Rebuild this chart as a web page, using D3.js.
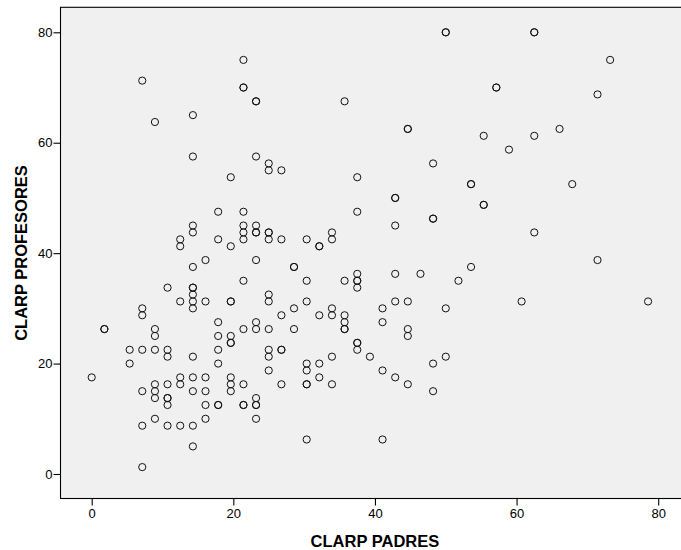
<!DOCTYPE html>
<html>
<head>
<meta charset="utf-8">
<script src="https://cdn.jsdelivr.net/npm/d3@7"></script>
<style>
  body { margin: 0; background: #fff; }
  svg text { font-family: "Liberation Sans", Arial, sans-serif; }
</style>
</head>
<body>
<svg id="chart"></svg>
<script>
// x: CLARP PADRES, y: CLARP PROFESORES (one entry per case, repeats = overlapping cases)
let clarpPadres = [
  0,
  1.79, 1.79,
  5.36, 5.36,
  7.14, 7.14, 7.14, 7.14, 7.14, 7.14, 7.14,
  8.93, 8.93, 8.93, 8.93, 8.93, 8.93, 8.93, 8.93,
  10.71, 10.71, 10.71, 10.71, 10.71, 10.71, 10.71, 10.71,
  12.5, 12.5, 12.5, 12.5, 12.5, 12.5,
  14.29, 14.29, 14.29, 14.29, 14.29, 14.29, 14.29, 14.29, 14.29, 14.29, 14.29, 14.29, 14.29, 14.29, 14.29,
  16.07, 16.07, 16.07, 16.07, 16.07, 16.07,
  17.86, 17.86, 17.86, 17.86, 17.86, 17.86, 17.86, 17.86,
  19.64, 19.64, 19.64, 19.64, 19.64, 19.64, 19.64, 19.64, 19.64, 19.64,
  21.43, 21.43, 21.43, 21.43, 21.43, 21.43, 21.43, 21.43, 21.43, 21.43, 21.43, 21.43,
  23.21, 23.21, 23.21, 23.21, 23.21, 23.21, 23.21, 23.21, 23.21, 23.21, 23.21, 23.21, 23.21,
  25, 25, 25, 25, 25, 25, 25, 25, 25, 25, 25,
  26.79, 26.79, 26.79, 26.79, 26.79, 26.79,
  28.57, 28.57, 28.57, 28.57,
  30.36, 30.36, 30.36, 30.36, 30.36, 30.36, 30.36, 30.36,
  32.14, 32.14, 32.14, 32.14, 32.14,
  33.93, 33.93, 33.93, 33.93, 33.93, 33.93,
  35.71, 35.71, 35.71, 35.71, 35.71, 35.71,
  37.5, 37.5, 37.5, 37.5, 37.5, 37.5, 37.5, 37.5, 37.5,
  39.29,
  41.07, 41.07, 41.07, 41.07,
  42.86, 42.86, 42.86, 42.86, 42.86, 42.86,
  44.64, 44.64, 44.64, 44.64, 44.64, 44.64,
  46.43,
  48.21, 48.21, 48.21, 48.21, 48.21,
  50, 50, 50, 50,
  51.79,
  53.57, 53.57, 53.57,
  55.36, 55.36, 55.36,
  57.14, 57.14,
  58.93,
  60.71,
  62.5, 62.5, 62.5, 62.5,
  66.07,
  67.86,
  71.43, 71.43,
  73.21,
  78.57
];

let clarpProfesores = [
  17.5,
  26.25, 26.25,
  22.5, 20,
  71.25, 30, 28.75, 22.5, 15, 8.75, 1.25,
  63.75, 26.25, 25, 22.5, 16.25, 15, 13.75, 10,
  33.75, 22.5, 21.25, 16.25, 13.75, 13.75, 12.5, 8.75,
  42.5, 41.25, 31.25, 17.5, 16.25, 8.75,
  65, 57.5, 45, 43.75, 37.5, 33.75, 33.75, 32.5, 31.25, 30, 21.25, 17.5, 15, 8.75, 5,
  38.75, 31.25, 17.5, 15, 12.5, 10,
  47.5, 42.5, 27.5, 25, 22.5, 20, 12.5, 12.5,
  53.75, 41.25, 31.25, 31.25, 25, 23.75, 23.75, 17.5, 16.25, 15,
  75, 70, 70, 47.5, 45, 43.75, 42.5, 35, 26.25, 16.25, 12.5, 12.5,
  67.5, 67.5, 57.5, 45, 43.75, 43.75, 38.75, 27.5, 26.25, 13.75, 12.5, 12.5, 10,
  56.25, 55, 43.75, 43.75, 42.5, 32.5, 31.25, 26.25, 22.5, 21.25, 18.75,
  55, 42.5, 28.75, 22.5, 22.5, 16.25,
  37.5, 37.5, 30, 26.25,
  42.5, 35, 31.25, 20, 18.75, 16.25, 16.25, 6.25,
  41.25, 41.25, 28.75, 20, 17.5,
  43.75, 42.5, 30, 28.75, 21.25, 16.25,
  67.5, 35, 28.75, 27.5, 26.25, 26.25,
  53.75, 47.5, 36.25, 35, 35, 33.75, 23.75, 23.75, 22.5,
  21.25,
  30, 27.5, 18.75, 6.25,
  50, 50, 45, 36.25, 31.25, 17.5,
  62.5, 62.5, 31.25, 26.25, 25, 16.25,
  36.25,
  56.25, 46.25, 46.25, 20, 15,
  80, 80, 30, 21.25,
  35,
  52.5, 52.5, 37.5,
  61.25, 48.75, 48.75,
  70, 70,
  58.75,
  31.25,
  80, 80, 61.25, 43.75,
  62.5,
  52.5,
  68.75, 38.75,
  75,
  31.25
];

let xTicks = [0, 20, 40, 60, 80];
let yTicks = [0, 20, 40, 60, 80];
let xTitle = 'CLARP PADRES', yTitle = 'CLARP PROFESORES';

let svgWidth = 681, svgHeight = 550;
let svg = d3.select('#chart').attr('width', svgWidth).attr('height', svgHeight);

// plot frame (runs off the right edge like the original)
let frame = {left: 60.5, top: 7.3, right: 700, bottom: 498.5};

let x = d3.scaleLinear().domain([0, 80]).range([91.7, 658.2]);
let y = d3.scaleLinear().domain([0, 80]).range([474, 32.3]);

svg.append('rect')
    .attr('x', frame.left).attr('y', frame.top)
    .attr('width', frame.right - frame.left)
    .attr('height', frame.bottom - frame.top)
    .attr('fill', '#f0f0f0')
    .attr('stroke', '#000')
    .attr('stroke-width', 1.1);

let xAxis = svg.append('g')
    .attr('transform', 'translate(0,' + frame.bottom + ')')
    .call(d3.axisBottom(x).tickValues(xTicks).tickSize(7).tickPadding(3).tickSizeOuter(0));

let yAxis = svg.append('g')
    .attr('transform', 'translate(' + frame.left + ',0)')
    .call(d3.axisLeft(y).tickValues(yTicks).tickSize(7).tickPadding(1).tickSizeOuter(0));

[xAxis, yAxis].forEach(a => {
  a.select('.domain').remove();
  a.selectAll('line').attr('stroke', '#000').attr('stroke-width', 1.1);
  a.selectAll('text').attr('fill', '#000').style('font-size', '13px')
    .style('font-family', '"Liberation Sans", Arial, sans-serif');
});

// points
let cases = clarpPadres.map((p, i) => ({p: p, q: clarpProfesores[i]}));

svg.append('g').selectAll('circle')
    .data(cases)
    .enter().append('circle')
    .attr('cx', d => x(d.p))
    .attr('cy', d => y(d.q))
    .attr('r', 3.6)
    .attr('fill', 'none')
    .attr('stroke', '#111')
    .attr('stroke-width', 1);

// axis titles
svg.append('text')
    .attr('x', (x(0) + x(80)) / 2)
    .attr('y', 546.5)
    .attr('text-anchor', 'middle')
    .style('font-size', '16.5px')
    .style('font-weight', 'bold')
    .text(xTitle);

svg.append('text')
    .attr('transform', 'translate(26.7,253) rotate(-90)')
    .attr('text-anchor', 'middle')
    .style('font-size', '16.5px')
    .style('font-weight', 'bold')
    .text(yTitle);
</script>
</body>
</html>
